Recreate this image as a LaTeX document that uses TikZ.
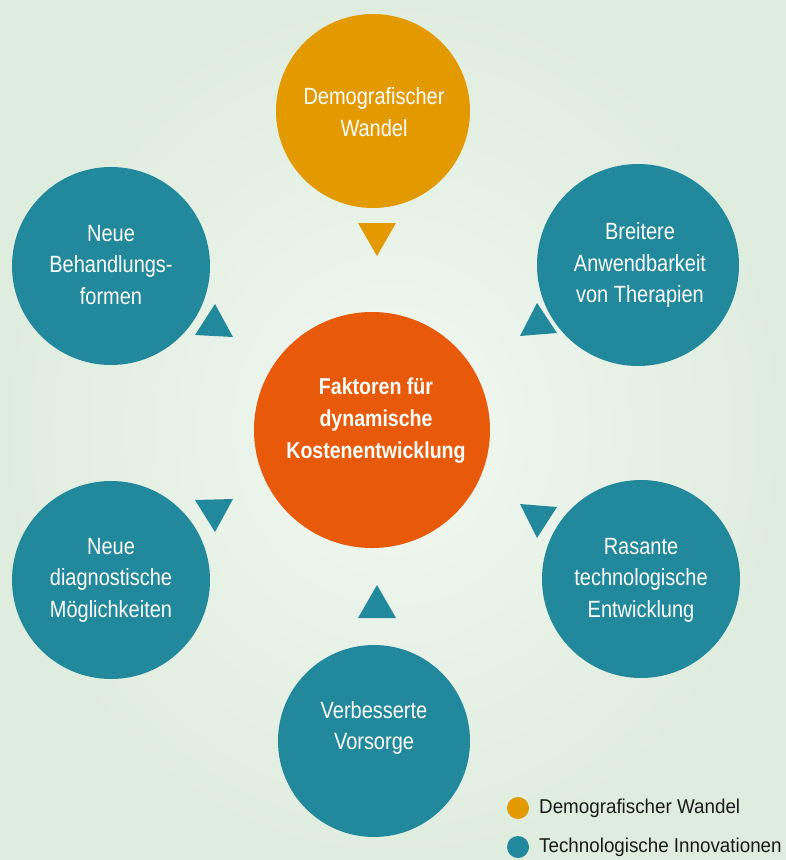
\documentclass[tikz,border=0pt]{standalone}
\usepackage{fontspec}
\setmainfont{Liberation Sans}[FakeStretch=0.85]
\newfontfamily\legfont{Liberation Sans}[FakeStretch=0.94]
\definecolor{tealc}{HTML}{22889C}
\definecolor{orangec}{HTML}{E39A00}
\definecolor{redc}{HTML}{E85A0A}
\definecolor{bgin}{HTML}{F2F8F1}
\definecolor{bgout}{HTML}{DFEDDF}
\definecolor{legtext}{HTML}{1A1A1A}
\begin{document}
\begin{tikzpicture}[x=1pt,y=-1pt,
  factor/.style={circle, fill=tealc, inner sep=0pt, minimum size=198pt},
  ftext/.style={text=white, align=center, inner sep=0pt, font=\fontsize{23.5}{31.5}\selectfont},
  ctext/.style={text=white, align=center, inner sep=0pt, font=\bfseries\fontsize{23}{32}\selectfont},
  marker/.style={fill=tealc},
  legdot/.style={circle, inner sep=0pt, minimum size=22pt},
  legtxt/.style={anchor=west, inner sep=0pt, text=legtext, font=\legfont\fontsize{20}{24}\selectfont}]
\shade[inner color=bgin, outer color=bgout] (0,0) rectangle (786,860);
\useasboundingbox (0,0) rectangle (786,860);

% circles
\node[factor, fill=orangec, minimum size=194pt] (demo) at (373,111) {};
\node[ftext] (demot) at (374,112) {Demografischer\\Wandel};

\node[circle, fill=redc, inner sep=0pt, minimum size=236pt] (center) at (372,430) {};
\node[ctext] (centert) at (376,421) {Faktoren für\\dynamische\\Kostenentwicklung};

\node[factor] (ul) at (111,266) {};
\node[ftext] (ult) at (111,265) {Neue\\Behandlungs-\\formen};

\node[factor, minimum size=202pt] (ur) at (638,265) {};
\node[ftext] (urt) at (640,265) {Breitere\\Anwendbarkeit\\von Therapien};

\node[factor] (ll) at (111,580) {};
\node[ftext] (llt) at (111,580) {Neue\\diagnostische\\Möglichkeiten};

\node[factor] (lr) at (641,579) {};
\node[ftext] (lrt) at (641,580) {Rasante\\technologische\\Entwicklung};

\node[factor, minimum size=192pt] (bot) at (374,741) {};
\node[ftext] (bott) at (374,728) {Verbesserte\\Vorsorge};

% triangles
\fill[orangec] (358,223) -- (396,223) -- (377,256) -- cycle;
\fill[marker] (195,335) -- (233,337) -- (215,304) -- cycle;
\fill[marker] (520,336) -- (557,333) -- (537,303) -- cycle;
\fill[marker] (195,500) -- (233,499) -- (215,532) -- cycle;
\fill[marker] (520,504) -- (557,507) -- (537,538) -- cycle;
\fill[marker] (358,618) -- (396,618) -- (377,585) -- cycle;

% legend
\node[legdot, fill=orangec] (ld1) at (518,808) {};
\node[legtxt] (lt1) at (539,808) {Demografischer Wandel};
\node[legdot, fill=tealc] (ld2) at (518,847) {};
\node[legtxt] (lt2) at (539,847) {Technologische Innovationen};
\end{tikzpicture}
\end{document}
